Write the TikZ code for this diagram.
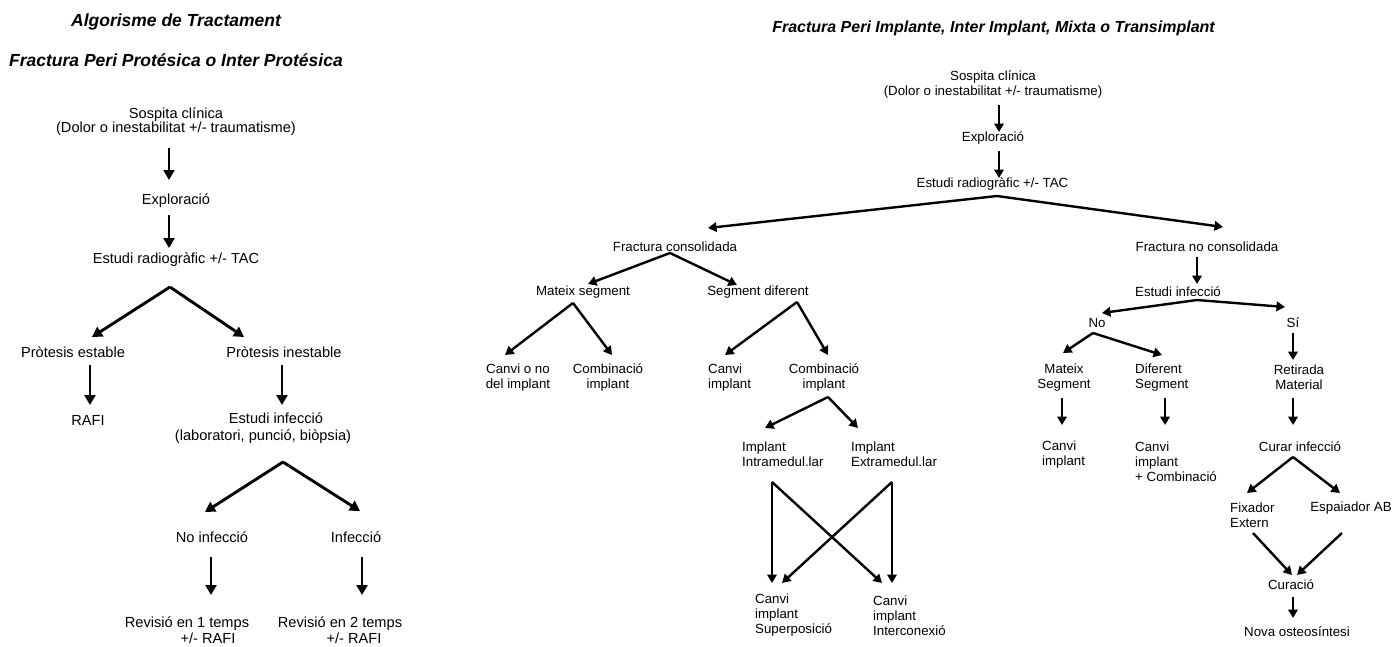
\documentclass[tikz,border=0pt]{standalone}
\usepackage{fontspec}
\setmainfont{Liberation Sans}
\usetikzlibrary{arrows.meta}
\tikzset{
  lt/.style={inner sep=0pt, font=\fontsize{14.6}{15.5}\selectfont, align=center},
  rt/.style={inner sep=0pt, font=\fontsize{13.3}{15}\selectfont, align=center},
  rtl/.style={inner sep=0pt, font=\fontsize{13.3}{15}\selectfont, align=left, anchor=west},
  ttl/.style={inner sep=0pt, font=\fontsize{17.5}{20}\selectfont\bfseries\itshape},
  ttr/.style={inner sep=0pt, font=\fontsize{16}{18}\selectfont\bfseries\itshape},
  larr/.style={line width=2.9pt, -{Triangle[length=10pt,width=11pt]}},
  rarr/.style={line width=2.4pt, -{Triangle[length=8.5pt,width=9.5pt]}}
}
\begin{document}
\begin{tikzpicture}[x=1pt,y=-1pt]
\useasboundingbox (0,0) rectangle (1393,646);
% ---------- left diagram ----------
\node[ttl] (t1) at (176,22) {Algorisme de Tractament};
\node[ttl] (t2) at (176,60) {Fractura Peri Protésica o Inter Protésica};
\node[lt] (s1) at (176,121.5) {Sospita clínica\\[-2pt](Dolor o inestabilitat +/- traumatisme)};
\node[lt] (e1) at (176,201) {Exploració};
\node[lt] (r1) at (176,260) {Estudi radiogràfic +/- TAC};
\node[lt] (pe) at (73,352) {Pròtesis estable};
\node[lt] (pi) at (284,352) {Pròtesis inestable};
\node[lt] (rafi) at (88,420) {RAFI};
\node[lt] (ei) at (263,428.5) {\hspace*{26pt}Estudi infecció\\[1.5pt](laboratori, punció, biòpsia)};
\node[lt] (ni) at (212,537) {No infecció};
\node[lt] (inf) at (356,537) {Infecció};
\node[lt] (rv1) at (187,630) {Revisió en 1 temps\\\hspace*{42pt}+/- RAFI};
\node[lt] (rv2) at (340,630) {Revisió en 2 temps\\\hspace*{28pt}+/- RAFI};

\draw[larr] ([shift={(-7,26.5)}]s1.center) -- ([shift={(-7,-21)}]e1.center);
\draw[larr] ([shift={(-7,14)}]e1.center) -- ([shift={(-7,-12)}]r1.center);
\draw[larr] ([shift={(-6,27)}]r1.center) -- ([shift={(19,-15)}]pe.center);
\draw[larr] ([shift={(-6,27)}]r1.center) -- ([shift={(-40,-15)}]pi.center);
\draw[larr] ([shift={(17,13)}]pe.center) -- ([shift={(2,-15)}]rafi.center);
\draw[larr] ([shift={(-2,13)}]pi.center) -- ([shift={(19,-23.5)}]ei.center);
\draw[larr] ([shift={(20,33.5)}]ei.center) -- ([shift={(-7,-25)}]ni.center);
\draw[larr] ([shift={(20,33.5)}]ei.center) -- ([shift={(4,-26)}]inf.center);
\draw[larr] ([shift={(-1,20)}]ni.center) -- ([shift={(24,-35)}]rv1.center);
\draw[larr] ([shift={(6,20)}]inf.center) -- ([shift={(22,-35)}]rv2.center);

% ---------- right diagram ----------
\node[ttr] (t3) at (993.5,28) {Fractura Peri Implante, Inter Implant, Mixta o Transimplant};
\node[rt] (s2) at (993,84.5) {Sospita clínica\\(Dolor o inestabilitat +/- traumatisme)};
\node[rt] (e2) at (993,138) {Exploració};
\node[rt] (r2) at (992.5,184) {Estudi radiogràfic +/- TAC};
\node[rt] (fc) at (675,247) {Fractura consolidada};
\node[rt] (fnc) at (1207,247) {Fractura no consolidada};
\node[rt] (ms) at (583,292) {Mateix segment};
\node[rt] (sd) at (758,292) {Segment diferent};
\node[rt] (cn) at (518,377.5) {Canvi o no\\del implant};
\node[rt] (ci1) at (608,377.5) {Combinació\\implant};
\node[rtl] (cv1) at (708,377.5) {Canvi\\implant};
\node[rt] (ci2) at (824,377.5) {Combinació\\implant};
\node[rtl] (iim) at (742,454.5) {Implant\\Intramedul.lar};
\node[rtl] (iem) at (851,454.5) {Implant\\Extramedul.lar};
\node[rtl] (cvs) at (755,615.5) {Canvi\\implant\\Superposició};
\node[rtl] (cvi) at (873,615.5) {Canvi\\implant\\Interconexió};
\node[rt] (ein) at (1178,292) {Estudi infecció};
\node[rt] (no) at (1097,323) {No};
\node[rt] (si) at (1293,323) {Sí};
\node[rt] (mS) at (1064,377.5) {Mateix\\Segment};
\node[rtl] (dS) at (1135,377.5) {Diferent\\Segment};
\node[rt] (rm) at (1299,377.5) {Retirada\\Material};
\node[rtl] (ci3) at (1042,454.5) {Canvi\\implant};
\node[rtl] (ci4) at (1135,462) {Canvi\\implant\\+ Combinació};
\node[rt] (cu) at (1300,447) {Curar infecció};
\node[rtl] (fe) at (1230,515.5) {Fixador\\Extern};
\node[rt] (ea) at (1351,508) {Espaiador AB};
\node[rt] (cur) at (1291,585) {Curació};
\node[rt] (nos) at (1297,632) {Nova osteosíntesi};

\draw[rarr] ([shift={(6,20.5)}]s2.center) -- ([shift={(6,-6)}]e2.center);
\draw[rarr] ([shift={(6,13)}]e2.center) -- ([shift={(6.5,-6)}]r2.center);
\draw[rarr] ([shift={(4.5,12)}]r2.center) -- ([shift={(33,-19)}]fc.center);
\draw[rarr] ([shift={(4.5,12)}]r2.center) -- ([shift={(16,-20)}]fnc.center);
\draw[rarr] ([shift={(-5,6)}]fc.center) -- ([shift={(5,-8)}]ms.center);
\draw[rarr] ([shift={(-5,6)}]fc.center) -- ([shift={(-21,-7)}]sd.center);
\draw[rarr] ([shift={(-10,11)}]ms.center) -- ([shift={(-13,-22.5)}]cn.center);
\draw[rarr] ([shift={(-10,11)}]ms.center) -- ([shift={(4,-22.5)}]ci1.center);
\draw[rarr] ([shift={(39,10)}]sd.center) -- ([shift={(17,-22.5)}]cv1.west);
\draw[rarr] ([shift={(39,10)}]sd.center) -- ([shift={(4,-22.5)}]ci2.center);
\draw[rarr] ([shift={(4,19.5)}]ci2.center) -- ([shift={(23,-26.5)}]iim.west);
\draw[rarr] ([shift={(4,19.5)}]ci2.center) -- ([shift={(7,-26.5)}]iem.west);
\draw[rarr] ([shift={(30,27.5)}]iim.west) -- ([shift={(17,-32.5)}]cvs.west);
\draw[rarr] ([shift={(30,27.5)}]iim.west) -- ([shift={(9,-32.5)}]cvi.west);
\draw[rarr] ([shift={(41,27.5)}]iem.west) -- ([shift={(19,-32.5)}]cvi.west);
\draw[rarr] ([shift={(41,27.5)}]iem.west) -- ([shift={(27,-32.5)}]cvs.west);
\draw[rarr] ([shift={(-10,10)}]fnc.center) -- ([shift={(19,-8)}]ein.center);
\draw[rarr] ([shift={(19,8)}]ein.center) -- ([shift={(5,-10)}]no.center);
\draw[rarr] ([shift={(19,8)}]ein.center) -- ([shift={(-8,-16)}]si.center);
\draw[rarr] ([shift={(-4,10)}]no.center) -- ([shift={(-1,-24.5)}]mS.center);
\draw[rarr] ([shift={(-4,10)}]no.center) -- ([shift={(27,-22.5)}]dS.west);
\draw[rarr] ([shift={(0,10)}]si.center) -- ([shift={(-6,-17.5)}]rm.center);
\draw[rarr] ([shift={(-2,20.5)}]mS.center) -- ([shift={(20,-29.5)}]ci3.west);
\draw[rarr] ([shift={(30,20.5)}]dS.west) -- ([shift={(30,-37)}]ci4.west);
\draw[rarr] ([shift={(-6,20.5)}]rm.center) -- ([shift={(-7,-22)}]cu.center);
\draw[rarr] ([shift={(-7,10)}]cu.center) -- ([shift={(17,-22.5)}]fe.west);
\draw[rarr] ([shift={(-7,10)}]cu.center) -- ([shift={(-11,-15)}]ea.center);
\draw[rarr] ([shift={(23,17.5)}]fe.west) -- ([shift={(1,-10)}]cur.center);
\draw[rarr] ([shift={(-9,25)}]ea.center) -- ([shift={(6,-10)}]cur.center);
\draw[rarr] ([shift={(2,12)}]cur.center) -- ([shift={(-4,-14)}]nos.center);
\end{tikzpicture}
\end{document}
